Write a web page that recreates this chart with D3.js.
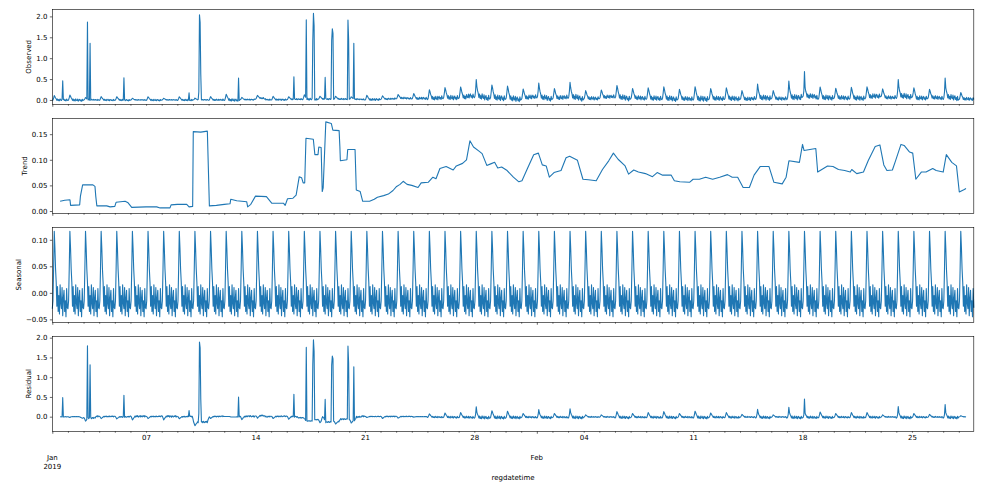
<!DOCTYPE html>
<html>
<head>
<meta charset="utf-8">
<script src="https://cdn.jsdelivr.net/npm/d3@7"></script>
<style>
body { margin: 0; background: #fff; }
svg { display: block; font-family: "DejaVu Sans", sans-serif; }
</style>
</head>
<body>
<svg id="chart" width="983" height="484"></svg>
<script>
// seasonal component, one day (hour 0 .. 23), it repeats every day
const seasonalDay = [-0.030, -0.015, 0.045, 0.116, 0.085, 0.045, 0.020, -0.025,
                     0.012, -0.035, -0.005, -0.040, 0.015, -0.020, -0.030, 0.010,
                     -0.043, -0.010, 0.005, -0.035, -0.015, -0.045, 0.008, -0.028];

// size of the daily bump in the observed series, Jan 1 .. Feb 28
const dailyAmp = [0.8, 0.9, 0.4, 0.6, 0.6, 0.3, 0.6, 0.3, 0.6, 0.3,
                  0.6, 1.0, 0.4, 0.5, 0.6, 0.5, 0.8, 0.5, 0.5, 0.4,
                  0.8, 0.6, 0.7, 0.9, 1.6, 1.8, 1.9, 2.3, 2.3, 2.2,
                  1.7, 2.1, 1.7, 2.2, 1.4, 1.4, 2.1, 1.7, 1.9, 2.1,
                  1.7, 2.2, 1.8, 1.9, 1.5, 2.1, 1.4, 2.2, 2.0, 2.0,
                  1.7, 1.9, 1.9, 1.4, 2.2, 1.7, 1.5, 2.2, 1.2];

// spikes in the observed series: [days since Jan 1, height]
const spikes = [[0.66, 0.48], [2.26, 1.85], [2.41, 1.35], [4.59, 0.54], [8.75, 0.16],
                [9.36, 0.2], [9.40, 2.03], [9.46, 1.86], [9.52, 0.6], [11.92, 0.5],
                [15.46, 0.55], [16.27, 1.87], [16.66, 1.42], [16.70, 2.05], [16.74, 1.75],
                [17.45, 0.53], [17.88, 1.42], [17.92, 1.67], [17.96, 1.58],
                [18.90, 1.88], [18.94, 1.45], [19.30, 1.34],
                [27.125, 0.10], [31.125, 0.05], [33.125, 0.06], [45.125, 0.06],
                [47.125, 0.10], [48.125, 0.33], [54.125, 0.12], [57.125, 0.17]];

// base level of the observed series in January: [day, value]
const janLevel = [[0, 0.010], [1.0, 0.015], [1.3, 0.012], [2.0, 0.010], [4.0, 0.008],
                  [5.0, 0.006], [8.0, 0.007], [9.0, 0.008], [10.5, 0.010], [11.2, 0.020],
                  [11.5, 0.014], [12.9, 0.015], [13.1, 0.050], [13.5, 0.050], [13.7, 0.015],
                  [15.0, 0.018], [16.0, 0.030], [17.0, 0.030], [19.0, 0.030], [20.0, 0.020]];

// trend: [day, value]
const trendPts = [
  [0.5, 0.019], [0.8, 0.021], [1.13, 0.022], [1.17, 0.011], [1.75, 0.012], [1.8, 0.029],
  [1.94, 0.051], [2.6, 0.051], [2.73, 0.048], [2.78, 0.029], [2.85, 0.010], [3.48, 0.010],
  [3.7, 0.008], [4.0, 0.009], [4.08, 0.017], [4.66, 0.019], [4.85, 0.016], [5.08, 0.007],
  [6.0, 0.008], [6.68, 0.008], [6.9, 0.006], [7.53, 0.006], [7.6, 0.012], [8.0, 0.013],
  [8.6, 0.013], [8.75, 0.008], [8.98, 0.009], [9.02, 0.155], [9.5, 0.154], [9.92, 0.156],
  [10.05, 0.010], [10.5, 0.011], [11.0, 0.013], [11.37, 0.014], [11.42, 0.023], [11.8, 0.020],
  [12.44, 0.018], [12.5, 0.008], [12.7, 0.013], [13.0, 0.029], [13.7, 0.028], [14.05, 0.015],
  [14.8, 0.015], [14.9, 0.011], [15.05, 0.024], [15.4, 0.025], [15.6, 0.031], [15.8, 0.067],
  [15.95, 0.065], [16.05, 0.055], [16.15, 0.055], [16.23, 0.142], [16.7, 0.140], [16.8, 0.110],
  [17.0, 0.110], [17.05, 0.125], [17.2, 0.124], [17.27, 0.038], [17.33, 0.045], [17.5, 0.174],
  [17.85, 0.171], [17.95, 0.158], [18.35, 0.157], [18.4, 0.125], [18.43, 0.098], [18.85, 0.100],
  [18.9, 0.120], [19.37, 0.120], [19.45, 0.041], [19.7, 0.038], [19.86, 0.019], [20.3, 0.019],
  [20.6, 0.023], [20.8, 0.027], [21.2, 0.030], [21.5, 0.033], [21.8, 0.040], [22.03, 0.048],
  [22.25, 0.052], [22.45, 0.058], [22.7, 0.052], [23.0, 0.050], [23.4, 0.046], [23.6, 0.055],
  [24.05, 0.056], [24.35, 0.066], [24.55, 0.063], [24.8, 0.083], [25.2, 0.087], [25.65, 0.080],
  [25.85, 0.088], [26.25, 0.093], [26.5, 0.100], [26.72, 0.137], [26.95, 0.125], [27.3, 0.117],
  [27.5, 0.112], [27.8, 0.089], [28.05, 0.092], [28.3, 0.095], [28.5, 0.084], [28.75, 0.086],
  [29.1, 0.079], [29.5, 0.066], [29.85, 0.057], [30.05, 0.059], [30.4, 0.083], [30.8, 0.110],
  [31.1, 0.113], [31.35, 0.090], [31.6, 0.088], [31.8, 0.066], [32.1, 0.075], [32.55, 0.079],
  [32.87, 0.104], [33.1, 0.107], [33.6, 0.099], [33.95, 0.062], [34.3, 0.061], [34.8, 0.059],
  [35.2, 0.081], [35.6, 0.098], [35.9, 0.113], [36.2, 0.101], [36.65, 0.088], [36.87, 0.072],
  [37.2, 0.080], [37.5, 0.076], [37.95, 0.073], [38.4, 0.067], [38.7, 0.075], [39.05, 0.070],
  [39.6, 0.070], [39.8, 0.059], [40.15, 0.057], [40.77, 0.056], [41.0, 0.062], [41.4, 0.062],
  [41.8, 0.066], [42.25, 0.062], [42.7, 0.066], [43.2, 0.071], [43.5, 0.066], [43.85, 0.066],
  [44.2, 0.046], [44.6, 0.046], [44.9, 0.070], [45.3, 0.087], [45.85, 0.087], [46.17, 0.056],
  [46.7, 0.053], [46.95, 0.066], [47.13, 0.098], [47.8, 0.095], [48.0, 0.130], [48.1, 0.118],
  [48.85, 0.122], [48.97, 0.076], [49.6, 0.088], [49.95, 0.087], [50.3, 0.081], [50.7, 0.079],
  [51.05, 0.076], [51.15, 0.081], [51.47, 0.073], [51.9, 0.076], [52.2, 0.098], [52.65, 0.126],
  [52.95, 0.129], [53.2, 0.090], [53.4, 0.079], [53.75, 0.080], [53.95, 0.098], [54.3, 0.130],
  [54.5, 0.128], [54.85, 0.115], [55.05, 0.113], [55.25, 0.062], [55.6, 0.076], [55.9, 0.076],
  [56.33, 0.083], [56.55, 0.079], [57.0, 0.076], [57.2, 0.110], [57.55, 0.095], [57.85, 0.088],
  [58.03, 0.037], [58.35, 0.042], [58.46, 0.044]];

const yTicks = {
    Observed: [0, 0.5, 1, 1.5, 2],
    Trend: [0, 0.05, 0.1, 0.15],
    Seasonal: [-0.05, 0, 0.05, 0.1],
    Residual: [0, 0.5, 1, 1.5, 2]
};

const blue = "#1f77b4";
const t0 = new Date(2019, 0, 1);
const nHours = 59 * 24;
const atHour = h => d3.timeHour.offset(t0, h);
const atDay = d => new Date(+t0 + d * 864e5);

let x = d3.scaleTime().domain([t0, atHour(nHours - 1)]).range([52.3, 973.8]);

// observed = level + daily bump + spikes, residual = observed - trend - seasonal
let levelPts = janLevel.concat(trendPts.filter(p => p[0] > 20.3));
let level = d3.scaleLinear().domain(levelPts.map(p => p[0])).range(levelPts.map(p => p[1])).clamp(true);
let trendAt = d3.scaleLinear().domain(trendPts.map(p => p[0])).range(trendPts.map(p => p[1])).clamp(true);
let spikeAt = new Map(spikes.map(s => [Math.round(s[0] * 24), s[1]]));

let hours = d3.range(nHours);
let observed = hours.map(h => ({
    t: atHour(h),
    v: level(h / 24) + dailyAmp[Math.floor(h / 24)] * seasonalDay[h % 24] + (spikeAt.get(h) || 0)
}));
let seasonal = hours.map(h => ({t: atHour(h), v: seasonalDay[h % 24]}));
let trend = trendPts.map(p => ({t: atDay(p[0]), v: p[1]}));
let residual = hours.slice(12, nHours - 12).map(h => ({
    t: atHour(h),
    v: observed[h].v - trendAt(h / 24) - seasonalDay[h % 24]
}));

let panels = [
    {label: "Observed", data: observed, top: 9.3, domain: [-0.104, 2.17], fmt: d3.format(".1f")},
    {label: "Trend", data: trend, top: 118.3, domain: [-0.0045, 0.181], fmt: d3.format(".2f")},
    {label: "Seasonal", data: seasonal, top: 227.3, domain: [-0.0555, 0.1235], fmt: d3.format(".2f")},
    {label: "Residual", data: residual, top: 336.3, domain: [-0.37, 2.035], fmt: d3.format(".1f")}
];
const panelHeight = 95;

let svg = d3.select("#chart");
let days = d3.timeDay.range(t0, atHour(nHours));
let months = days.filter(d => d.getDate() === 1);
let minorDays = days.filter(d => d.getDate() !== 1);
let mondays = days.filter(d => d.getDay() === 1);

function style_axis(g) {
    g.select(".domain").remove();
    g.selectAll("line").attr("stroke", "#000").attr("stroke-width", 0.6);
    g.selectAll("text").attr("fill", "#000").style("font-size", "7px")
        .style("font-family", "'DejaVu Sans', sans-serif");
}

panels.forEach((p, i) => {
    let bottom = p.top + panelHeight;
    let y = d3.scaleLinear().domain(p.domain).range([bottom, p.top]);
    let g = svg.append("g");

    let line = d3.line().x(d => x(d.t)).y(d => y(d.v));
    g.append("path")
        .datum(p.data)
        .attr("d", line)
        .attr("fill", "none")
        .attr("stroke", blue)
        .attr("stroke-width", 1.1)
        .attr("stroke-linejoin", "round");

    let ya = g.append("g")
        .attr("transform", `translate(${x.range()[0]},0)`)
        .call(d3.axisLeft(y).tickValues(yTicks[p.label]).tickSize(2.45).tickPadding(2.45).tickFormat(p.fmt))
        .call(style_axis);

    let last = i === panels.length - 1;
    g.append("g")
        .attr("transform", `translate(0,${bottom})`)
        .call(d3.axisBottom(x).tickValues(minorDays).tickSize(1.4).tickFormat(""))
        .call(style_axis);
    g.append("g")
        .attr("transform", `translate(0,${bottom})`)
        .call(d3.axisBottom(x).tickValues(months).tickSize(2.45).tickFormat(""))
        .call(style_axis);
    if (last) {
        g.append("g")
            .attr("transform", `translate(0,${bottom})`)
            .call(d3.axisBottom(x).tickValues(mondays).tickSize(0).tickPadding(3.9)
                .tickFormat(d3.timeFormat("%d")))
            .call(style_axis);
    }

    g.append("rect")
        .attr("x", x.range()[0]).attr("y", p.top)
        .attr("width", x.range()[1] - x.range()[0]).attr("height", panelHeight)
        .attr("fill", "none").attr("stroke", "#000").attr("stroke-width", 0.6);

    let minX = d3.min(ya.selectAll("text").nodes(), n => n.getBBox().x) + x.range()[0];
    g.append("text")
        .attr("transform", `translate(${minX - 5.2},${p.top + panelHeight / 2}) rotate(-90)`)
        .attr("text-anchor", "middle")
        .style("font-size", "7px")
        .text(p.label);
});

// month labels under the last panel
let monthText = svg.append("g").style("font-size", "7px").attr("text-anchor", "middle");
monthText.append("text").attr("x", x(months[0])).attr("y", 459.5).text("Jan");
monthText.append("text").attr("x", x(months[0])).attr("y", 468.5).text("2019");
monthText.append("text").attr("x", x(months[1])).attr("y", 459.5).text("Feb");

svg.append("text")
    .attr("x", (x.range()[0] + x.range()[1]) / 2)
    .attr("y", 480)
    .attr("text-anchor", "middle")
    .style("font-size", "7px")
    .text("regdatetime");
</script>
</body>
</html>
